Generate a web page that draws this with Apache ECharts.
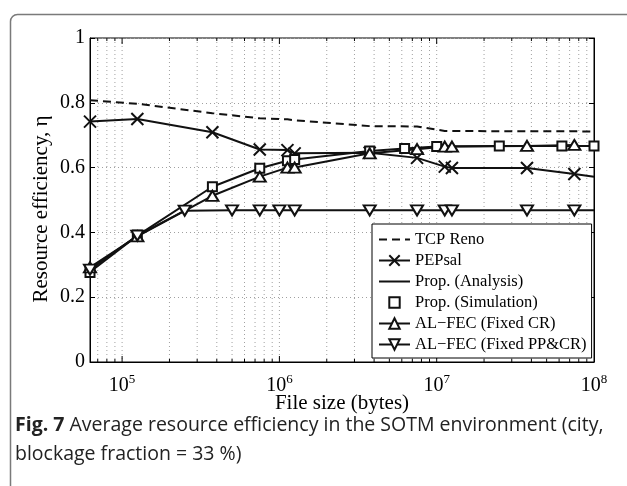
<!DOCTYPE html>
<html>
<head>
<meta charset="utf-8">
<script src="https://cdn.jsdelivr.net/npm/echarts@6/dist/echarts.min.js"></script>
<style>
  html, body { margin: 0; padding: 0; background: #fff; }
  #mychart { width: 627px; height: 486px; }
</style>
</head>
<body>
<div id="mychart"></div>
<script>
// axis range
var xMin = 62500, xMax = 1e8;
var yMin = 0, yMax = 1, yStep = 0.2;

// TCP Reno (dashed, no markers)
var tcpX = [62500, 125000, 375000, 750000, 1125000, 1250000, 3750000, 7500000, 11250000, 37500000, 75000000, 100000000];
var tcpY = [0.808, 0.797, 0.768, 0.752, 0.749, 0.746, 0.728, 0.727, 0.713, 0.712, 0.712, 0.711];

// PEPsal (last point is line end only)
var pepX = [62500, 125000, 375000, 750000, 1125000, 1250000, 3750000, 7500000, 11250000, 12500000, 37500000, 75000000, 100000000];
var pepY = [0.742, 0.750, 0.709, 0.656, 0.654, 0.644, 0.646, 0.630, 0.603, 0.599, 0.599, 0.580, 0.572];

// Prop. (Analysis) line and Prop. (Simulation) squares
var propX = [62500, 125000, 375000, 750000, 1125000, 1250000, 3750000, 6250000, 10000000, 25000000, 62500000, 100000000];
var anaY = [0.278, 0.390, 0.541, 0.598, 0.621, 0.625, 0.651, 0.659, 0.665, 0.667, 0.667, 0.667];
var simY = [0.276, 0.392, 0.541, 0.598, 0.621, 0.625, 0.651, 0.659, 0.665, 0.667, 0.667, 0.667];

// AL-FEC (Fixed CR)
var crX = [62500, 125000, 375000, 750000, 1125000, 1250000, 3750000, 7500000, 11250000, 12500000, 37500000, 75000000];
var crY = [0.292, 0.388, 0.513, 0.572, 0.600, 0.600, 0.644, 0.657, 0.665, 0.665, 0.667, 0.670];

// AL-FEC (Fixed PP&CR) (last point is line end only)
var ppX = [62500, 125000, 250000, 500000, 750000, 1000000, 1250000, 3750000, 7500000, 11250000, 12500000, 37500000, 75000000, 100000000];
var ppY = [0.285, 0.390, 0.467, 0.468, 0.468, 0.468, 0.468, 0.468, 0.468, 0.468, 0.468, 0.468, 0.468, 0.468];

var legendNames = ['TCP Reno', 'PEPsal', 'Prop. (Analysis)', 'Prop. (Simulation)', 'AL\u2212FEC (Fixed CR)', 'AL\u2212FEC (Fixed PP&CR)'];

// log grid positions (minor 2..9 and majors inside the range)
var gridX = [];
for (var e = 4; e <= 7; e++) {
  for (var m = 1; m <= 9; m++) {
    var v = m * Math.pow(10, e);
    if (v > xMin && v < xMax) gridX.push(v);
  }
}

function pairs(xs, ys, lastBare) {
  return xs.map(function (x, i) {
    var item = { value: [x, ys[i]] };
    if (lastBare && i === xs.length - 1) item.symbol = 'none';
    return item;
  });
}

var SERIF = '"Liberation Serif", "DejaVu Serif", serif';
var SANS = '"Open Sans", "Noto Sans", sans-serif';
var X_PATH = 'path://M0,0 L10,10 M10,0 L0,10';
var DOWN_TRI = 'path://M0,0 L12,0 L6,10 Z';
var UP_TRI = 'path://M6,0 L12,10 L0,10 Z';

var dom = document.getElementById('mychart');
var chart = echarts.init(dom, null, { renderer: 'canvas' });

chart.setOption({
  animation: false,
  backgroundColor: '#fff',
  textStyle: { fontFamily: SERIF, color: '#000' },
  grid: {
    left: 90, top: 38, width: 504, height: 324,
    show: true, borderColor: '#000', borderWidth: 1, backgroundColor: 'transparent'
  },
  graphic: [
    {
      type: 'rect', left: 8, top: 12, z: -10,
      shape: { width: 700, height: 600, r: [7, 0, 0, 0] },
      style: { fill: 'none', stroke: '#7a7a7a', lineWidth: 1.5 }
    },
    {
      // y axis title
      type: 'text', x: 41, y: 209, rotation: Math.PI / 2,
      style: {
        text: 'Resource efficiency, \u03b7',
        font: '21px ' + SERIF, fill: '#000',
        align: 'center', verticalAlign: 'middle'
      }
    },
    {
      type: 'text', left: 15, top: 411,
      style: {
        text: '{b|Fig. 7} Average resource efficiency in the SOTM environment (city,\nblockage fraction = 33 %)',
        font: '19.5px ' + SANS,
        fill: '#222', lineHeight: 29,
        rich: {
          b: { fontWeight: 'bold', fontSize: 19.5, fontFamily: SANS, fill: '#222' }
        }
      }
    }
  ],
  legend: {
    orient: 'vertical', left: 372, top: 224,
    backgroundColor: '#fff', borderColor: '#000', borderWidth: 1,
    padding: [7, 5, 5, 6], itemGap: 4, itemWidth: 31, itemHeight: 13,
    textStyle: { fontFamily: SERIF, fontSize: 16.5, color: '#000' },
    data: legendNames.map(function (n, i) {
      var d = { name: n };
      if (i === 0 || i === 2) d.itemStyle = { opacity: 0 };
      return d;
    })
  },
  xAxis: {
    type: 'log', logBase: 10, min: xMin, max: xMax,
    name: 'File size (bytes)', nameLocation: 'middle', nameGap: 31, nameMoveOverlap: false,
    nameTextStyle: { fontFamily: SERIF, fontSize: 21, color: '#000' },
    axisLine: { lineStyle: { color: '#000' } },
    axisTick: { show: false },
    splitLine: { show: false },
    axisLabel: {
      margin: 11,
      formatter: function (v) {
        var p = Math.log10(v);
        if (Math.abs(p - Math.round(p)) > 1e-6) return '';
        return '{b|10}{s|' + Math.round(p) + '}';
      },
      rich: {
        b: { fontFamily: SERIF, fontSize: 20, color: '#000' },
        s: { fontFamily: SERIF, fontSize: 13, color: '#000', padding: [0, 0, 12, 0] }
      }
    }
  },
  yAxis: [
    {
      type: 'value', min: yMin, max: yMax, interval: yStep,
      axisLine: { show: true, lineStyle: { color: '#000' } },
      axisTick: { show: true, inside: true, length: 5, lineStyle: { color: '#000' } },
      axisLabel: { margin: 5, fontFamily: SERIF, fontSize: 20, color: '#000' },
      splitLine: { show: true, lineStyle: { color: '#a0a0a0', width: 1, type: [1, 3] } }
    },
    {
      type: 'value', min: yMin, max: yMax, interval: yStep, position: 'right',
      axisLine: { show: true, lineStyle: { color: '#000' } },
      axisTick: { show: true, inside: true, length: 5, lineStyle: { color: '#000' } },
      axisLabel: { show: false },
      splitLine: { show: false }
    }
  ],
  series: [
    {
      name: 'grid', type: 'custom', silent: true, z: 1,
      data: gridX.map(function (x) { return [x, 0]; }),
      encode: { x: 0, y: 1 },
      renderItem: function (params, api) {
        var v = api.value(0);
        var top = api.coord([v, yMax]);
        var bot = api.coord([v, yMin]);
        var p = Math.log10(v);
        var len = Math.abs(p - Math.round(p)) < 1e-6 ? 6 : 3;
        return {
          type: 'group',
          children: [
            { type: 'line', shape: { x1: top[0], y1: top[1], x2: bot[0], y2: bot[1] },
              style: { stroke: '#a0a0a0', lineWidth: 1, lineDash: [1, 3] } },
            { type: 'line', shape: { x1: bot[0], y1: bot[1], x2: bot[0], y2: bot[1] - len },
              style: { stroke: '#000', lineWidth: 1 } },
            { type: 'line', shape: { x1: top[0], y1: top[1], x2: top[0], y2: top[1] + len },
              style: { stroke: '#000', lineWidth: 1 } }
          ]
        };
      }
    },
    {
      name: 'TCP Reno', type: 'line', symbol: 'none', z: 3,
      data: pairs(tcpX, tcpY),
      lineStyle: { color: '#111', width: 2, type: [8, 5] },
      itemStyle: { color: '#111' }
    },
    {
      name: 'PEPsal', type: 'line', symbol: X_PATH, symbolSize: 12, z: 3,
      data: pairs(pepX, pepY, true),
      lineStyle: { color: '#111', width: 2 },
      itemStyle: { color: 'none', borderColor: '#111', borderWidth: 2 }
    },
    {
      name: 'Prop. (Analysis)', type: 'line', symbol: 'none', z: 3,
      data: pairs(propX, anaY),
      lineStyle: { color: '#111', width: 2 },
      itemStyle: { color: '#111' }
    },
    {
      name: 'Prop. (Simulation)', type: 'line', symbol: 'rect', symbolSize: 9, z: 4,
      data: pairs(propX, simY),
      lineStyle: { width: 0, opacity: 0 },
      itemStyle: { color: '#fff', borderColor: '#111', borderWidth: 2 }
    },
    {
      name: 'AL\u2212FEC (Fixed CR)', type: 'line', symbol: UP_TRI, symbolSize: [12, 10], z: 4,
      data: pairs(crX, crY),
      lineStyle: { color: '#111', width: 2 },
      itemStyle: { color: '#fff', borderColor: '#111', borderWidth: 2 }
    },
    {
      name: 'AL\u2212FEC (Fixed PP&CR)', type: 'line', symbol: DOWN_TRI, symbolSize: [12, 10], z: 4,
      data: pairs(ppX, ppY, true),
      lineStyle: { color: '#111', width: 2 },
      itemStyle: { color: '#fff', borderColor: '#111', borderWidth: 2 }
    }
  ]
});
</script>
</body>
</html>
